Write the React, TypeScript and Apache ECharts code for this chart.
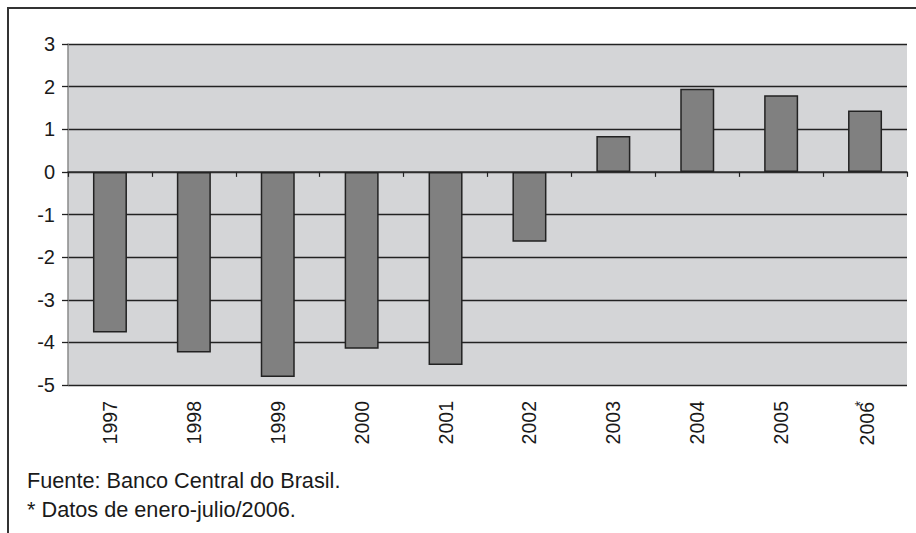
import React, { useEffect, useRef } from "react";
import * as echarts from "echarts";

const years = ["1997", "1998", "1999", "2000", "2001", "2002", "2003", "2004", "2005", "2006"];
const yearLabels = ["1997", "1998", "1999", "2000", "2001", "2002", "2003", "2004", "2005", "2006*"];
const values = [-3.77, -4.24, -4.81, -4.15, -4.53, -1.64, 0.84, 1.95, 1.8, 1.44];
const footnotes = ["Fuente: Banco Central do Brasil.", "* Datos de enero-julio/2006."];

const FONT = "'Liberation Sans', Arial, sans-serif";

export default function App() {
  const ref = useRef<HTMLDivElement>(null);
  useEffect(() => {
    if (!ref.current) return;
    const chart = echarts.init(ref.current, undefined, { renderer: "svg" });
    chart.setOption({
      animation: false,
      backgroundColor: "#ffffff",
      grid: {
        left: 68,
        top: 44,
        right: 9,
        bottom: 148,
        show: true,
        backgroundColor: "#d4d5d7",
        borderWidth: 0,
      },
      xAxis: [
        {
          type: "category",
          data: years,
          boundaryGap: true,
          axisLine: { onZero: true, lineStyle: { color: "#333", width: 1.5 } },
          axisTick: { show: true, length: 5, inside: false, lineStyle: { color: "#222", width: 1.2 } },
          axisLabel: { show: false },
          splitLine: { show: false },
        },
        {
          type: "category",
          data: yearLabels,
          position: "bottom",
          boundaryGap: true,
          axisLine: { show: false, onZero: false },
          axisTick: { show: false },
          axisLabel: {
            rotate: 90,
            margin: 16,
            fontSize: 19.5,
            fontFamily: FONT,
            color: "#1a1a1a",
            formatter: (v: string) =>
              v.endsWith("*") ? "{n|" + v.slice(0, -1) + "}{sup|*}" : v,
            rich: {
              n: { fontSize: 19.5, fontFamily: FONT, color: "#1a1a1a", lineHeight: 24, verticalAlign: "bottom" },
              sup: { fontSize: 14, fontFamily: FONT, color: "#1a1a1a", lineHeight: 14, verticalAlign: "top", width: 1 },
            },
          },
          splitLine: { show: false },
        },
      ],
      yAxis: {
        type: "value",
        min: -5,
        max: 3,
        interval: 1,
        axisLine: { show: true, lineStyle: { color: "#8a8a8a", width: 1.5 } },
        axisTick: { show: true, length: 6, lineStyle: { color: "#222", width: 1.3 } },
        axisLabel: { fontSize: 20, fontFamily: FONT, color: "#1a1a1a", margin: 13 },
        splitLine: { show: true, lineStyle: { color: "#222", width: 1.3 } },
      },
      series: [
        {
          type: "bar",
          xAxisIndex: 0,
          data: values,
          barWidth: 34,
          itemStyle: { color: "#808080", borderColor: "#222", borderWidth: 1.5 },
        },
      ],
      graphic: [
        {
          type: "polyline",
          shape: { points: [[8, 540], [8, 8], [920, 8]] },
          style: { stroke: "#333", lineWidth: 2, fill: "none" },
          silent: true,
        },
        {
          type: "text",
          left: 27,
          top: 469,
          style: { text: footnotes[0], fontSize: 21.7, fontFamily: FONT, fill: "#1a1a1a" },
        },
        {
          type: "text",
          left: 27,
          top: 498,
          style: { text: footnotes[1], fontSize: 21.7, fontFamily: FONT, fill: "#1a1a1a" },
        },
      ],
    });
    return () => chart.dispose();
  }, []);
  return (
    <div
      ref={ref}
      style={{ position: "absolute", left: 0, top: 0, width: 916, height: 533 }}
    />
  );
}
